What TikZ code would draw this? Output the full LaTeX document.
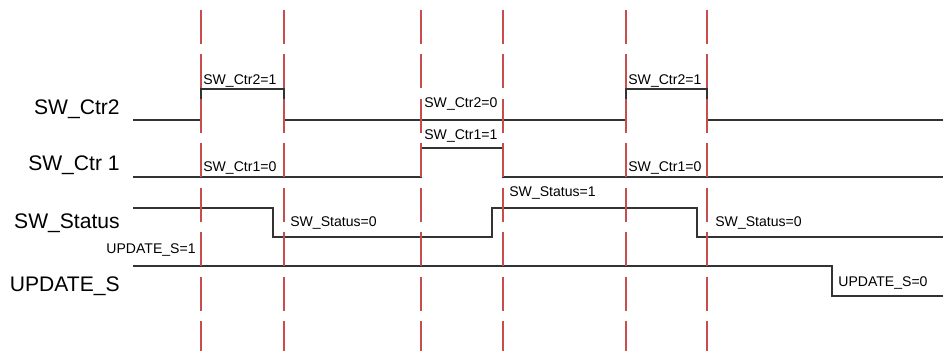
\documentclass[tikz,border=0pt]{standalone}
\usepackage{fontspec}
\setmainfont{Liberation Sans}
\definecolor{evtred}{RGB}{200,78,78}
\tikzset{
  sig/.style={draw=black!80, line width=0.6pt},
  evt/.style={draw=evtred, line width=1.1pt, dash pattern=on 19.3pt off 6pt},
  signame/.style={anchor=base east, inner sep=0pt,
                  font=\fontsize{12}{14}\selectfont},
  val/.style={anchor=base west, inner sep=0pt,
              font=\fontsize{8}{9}\selectfont},
}
\begin{document}
\begin{tikzpicture}[x=0.02cm, y=-0.02cm]
\useasboundingbox (0,0) rectangle (943,351);

% signal names
\node[signame] (ctr2) at (120,115) {SW\_Ctr2};
\node[signame] (ctr1) at (120,171) {SW\_Ctr 1};
\node[signame] (status) at (120,229) {SW\_Status};
\node[signame] (update) at (120,292) {UPDATE\_S};

% waveforms
\draw[sig] (133,120) -- (201,120) -- (201,89) -- (284,89) -- (284,120)
  -- (626,120) -- (626,89) -- (707,89) -- (707,120) -- (943,120);
\draw[sig] (133,177) -- (421,177) -- (421,148) -- (503,148) -- (503,177)
  -- (943,177);
\draw[sig] (133,208) -- (273,208) -- (273,237) -- (492,237) -- (492,208)
  -- (697,208) -- (697,237) -- (943,237);
\draw[sig] (133,266) -- (832,266) -- (832,296) -- (943,296);

% values
\node[val] (c2a) at (203,85) {SW\_Ctr2=1};
\node[val] (c2b) at (424,108) {SW\_Ctr2=0};
\node[val] (c2c) at (628,85) {SW\_Ctr2=1};
\node[val] (c1a) at (203,172) {SW\_Ctr1=0};
\node[val] (c1b) at (424,140) {SW\_Ctr1=1};
\node[val] (c1c) at (628,172) {SW\_Ctr1=0};
\node[val] (sta) at (290,227) {SW\_Status=0};
\node[val] (stb) at (509,197) {SW\_Status=1};
\node[val] (stc) at (715,227) {SW\_Status=0};
\node[val, anchor=base east] (upa) at (196,254) {UPDATE\_S=1};
\node[val] (upb) at (838,286) {UPDATE\_S=0};

% event lines
\foreach \x in {201,284,421,503,626,707}
  \draw[evt] (\x,10) -- (\x,351);

\end{tikzpicture}
\end{document}
